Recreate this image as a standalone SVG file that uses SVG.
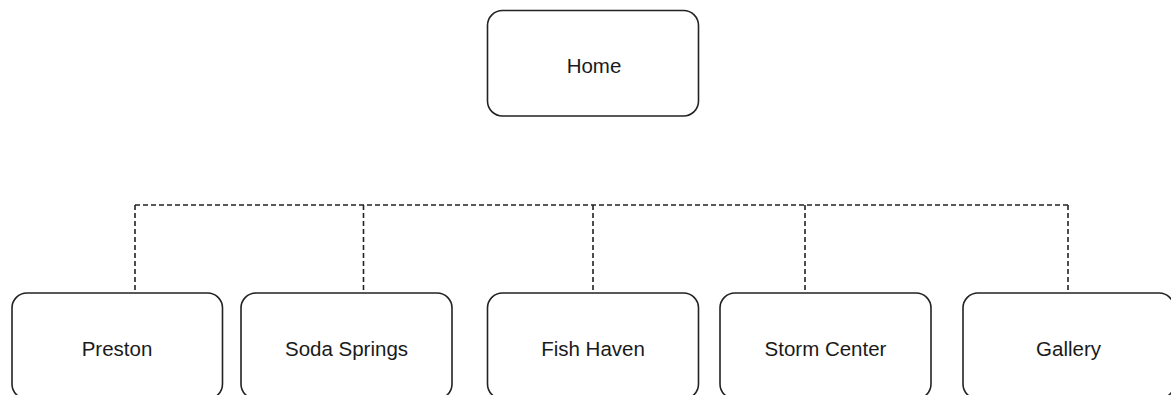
<svg xmlns="http://www.w3.org/2000/svg" width="1171" height="395" viewBox="0 0 1171 395">
<style>
.box{fill:#fff;stroke:#222;stroke-width:1.6}
.lbl{font-family:"Liberation Sans",Arial,sans-serif;font-size:20.5px;fill:#1a1a1a;text-anchor:middle;dominant-baseline:central}
.conn{fill:none;stroke:#222;stroke-width:1.6;stroke-dasharray:5 3}
</style>
<rect width="1171" height="395" fill="#fff"/>
<g id="connectors">
<path class="conn" d="M135 205H1068"/>
<path class="conn" d="M135 205V293"/>
<path class="conn" d="M363.5 205V293"/>
<path class="conn" d="M593 205V293"/>
<path class="conn" d="M805 205V293"/>
<path class="conn" d="M1068 205V293"/>
</g>
<g id="home"><rect class="box" x="487.5" y="10.5" width="211" height="105.5" rx="15"/><text class="lbl" x="594" y="65">Home</text></g>
<g id="preston"><rect class="box" x="12" y="293" width="210.5" height="106" rx="15"/><text class="lbl" x="117" y="348">Preston</text></g>
<g id="soda-springs"><rect class="box" x="241" y="293" width="211" height="106" rx="15"/><text class="lbl" x="346.5" y="348">Soda Springs</text></g>
<g id="fish-haven"><rect class="box" x="487.5" y="293" width="211" height="106" rx="15"/><text class="lbl" x="593" y="348">Fish Haven</text></g>
<g id="storm-center"><rect class="box" x="720" y="293" width="211" height="106" rx="15"/><text class="lbl" x="825.5" y="348">Storm Center</text></g>
<g id="gallery"><rect class="box" x="963" y="293" width="211" height="106" rx="15"/><text class="lbl" x="1068.5" y="348">Gallery</text></g>
</svg>
